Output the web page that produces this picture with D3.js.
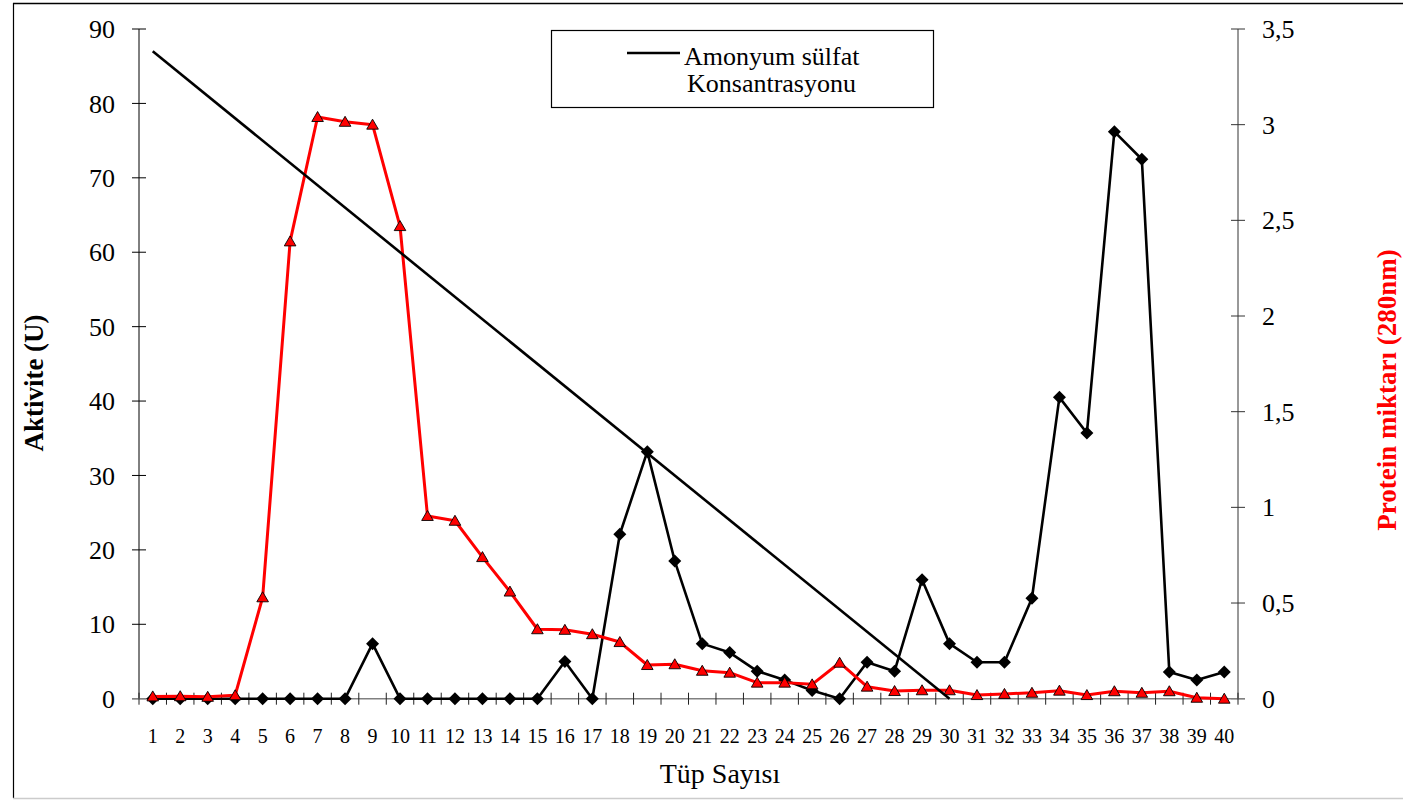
<!DOCTYPE html>
<html>
<head>
<meta charset="utf-8">
<script src="https://cdn.jsdelivr.net/npm/d3@7"></script>
<style>
  html, body { margin: 0; padding: 0; background: #fff; }
  svg text { font-family: "Liberation Serif", "Times New Roman", "DejaVu Serif", serif; }
</style>
</head>
<body>
<svg id="chart" width="1403" height="800"></svg>
<script>
// Tube numbers (x categories)
const tubes = [1,2,3,4,5,6,7,8,9,10,11,12,13,14,15,16,17,18,19,20,
               21,22,23,24,25,26,27,28,29,30,31,32,33,34,35,36,37,38,39,40];

// Enzyme activity (U), left axis
const activity = [0,0,0,0,0,0,0,0,7.4,0,0,0,0,0,0,5,0,22.1,33.2,18.5,
                  7.4,6.2,3.7,2.5,1.1,0,4.9,3.7,16,7.4,4.9,4.9,13.5,40.5,35.7,76.2,72.5,3.6,2.5,3.6];

// Protein amount (A280), right axis
const protein = [0.012,0.013,0.01,0.018,0.53,2.39,3.04,3.015,3.0,2.47,0.955,0.93,0.74,0.56,0.363,0.36,0.337,0.296,0.176,0.18,
                 0.146,0.136,0.084,0.084,0.075,0.188,0.063,0.04,0.044,0.044,0.019,0.025,0.031,0.042,0.019,0.039,0.031,0.039,0.005,0];

// Ammonium sulfate gradient (start and end tubes), drawn on the left scale
const saltTubes = [1, 30];
const saltValues = [87, 0];

// Axis ticks
const leftTicks = [0,10,20,30,40,50,60,70,80,90];
const rightTicks = [0,0.5,1,1.5,2,2.5,3,3.5];

const FONT = "Liberation Serif, Times New Roman, DejaVu Serif, serif";
const svg = d3.select("#chart");

const plot = { left: 139, right: 1238, top: 29, bottom: 698.7 };

const x = d3.scaleLinear().domain([0.5, tubes.length + 0.5]).range([plot.left, plot.right]);
const yL = d3.scaleLinear().domain([0, 90]).range([plot.bottom, plot.top]);
const yR = d3.scaleLinear().domain([0, 3.5]).range([plot.bottom, plot.top]);

// Outer chart frame
svg.append("line").attr("x1", 13.5).attr("y1", 3).attr("x2", 13.5).attr("y2", 798).attr("stroke", "#000").attr("stroke-width", 1.2);
svg.append("line").attr("x1", 13).attr("y1", 3.5).attr("x2", 1403).attr("y2", 3.5).attr("stroke", "#000").attr("stroke-width", 1.5);
svg.append("line").attr("x1", 13).attr("y1", 798.5).attr("x2", 1403).attr("y2", 798.5).attr("stroke", "#ccc").attr("stroke-width", 1.5);

// Left axis
const gL = svg.append("g");
gL.append("line").attr("x1", plot.left).attr("x2", plot.left).attr("y1", yL(90)).attr("y2", yL(0)).attr("stroke", "#000");
gL.selectAll("line.t").data(leftTicks).join("line").attr("class", "t")
  .attr("x1", plot.left - 7).attr("x2", plot.left + 7)
  .attr("y1", d => yL(d)).attr("y2", d => yL(d)).attr("stroke", "#000");
gL.selectAll("text").data(leftTicks).join("text")
  .attr("x", plot.left - 24).attr("y", d => yL(d)).attr("dy", "0.35em")
  .attr("text-anchor", "end").attr("font-family", FONT).attr("font-size", 26).text(d => d);

// Right axis
const fmt = d => String(d).replace(".", ",");
const gR = svg.append("g");
gR.append("line").attr("x1", plot.right).attr("x2", plot.right).attr("y1", yR(3.5)).attr("y2", yR(0)).attr("stroke", "#333");
gR.selectAll("line.t").data(rightTicks).join("line").attr("class", "t")
  .attr("x1", plot.right - 7).attr("x2", plot.right + 7)
  .attr("y1", d => yR(d)).attr("y2", d => yR(d)).attr("stroke", "#333");
gR.selectAll("text").data(rightTicks).join("text")
  .attr("x", plot.right + 24).attr("y", d => yR(d)).attr("dy", "0.35em")
  .attr("text-anchor", "start").attr("font-family", FONT).attr("font-size", 26).text(fmt);

// Bottom (category) axis
const gX = svg.append("g");
gX.append("line").attr("x1", plot.left - 7).attr("x2", plot.right + 7).attr("y1", plot.bottom).attr("y2", plot.bottom)
  .attr("stroke", "#808080").attr("stroke-width", 1.5);
const bounds = d3.range(0, tubes.length + 1).map(i => i + 0.5);
gX.selectAll("line.t").data(bounds).join("line").attr("class", "t")
  .attr("x1", d => x(d)).attr("x2", d => x(d))
  .attr("y1", plot.bottom - 6).attr("y2", plot.bottom + 6).attr("stroke", "#222");
gX.selectAll("text").data(tubes).join("text")
  .attr("x", d => x(d)).attr("y", 742.5)
  .attr("text-anchor", "middle").attr("font-family", FONT).attr("font-size", 20).text(d => d);

// Axis titles
svg.append("text").attr("x", 720).attr("y", 783).attr("text-anchor", "middle")
  .attr("font-family", FONT).attr("font-size", 28).text("Tüp Sayısı");
svg.append("text").attr("transform", "translate(43,383) rotate(-90)").attr("text-anchor", "middle")
  .attr("font-family", FONT).attr("font-size", 27).attr("font-weight", "bold").text("Aktivite (U)");
svg.append("text").attr("transform", "translate(1396,390) rotate(-90)").attr("text-anchor", "middle")
  .attr("font-family", FONT).attr("font-size", 27).attr("font-weight", "bold").attr("fill", "#ff0000").text("Protein miktarı (280nm)");

// Activity series
const actPts = tubes.map((t, i) => [t, activity[i]]);
svg.append("path").datum(actPts)
  .attr("d", d3.line().x(d => x(d[0])).y(d => yL(d[1])))
  .attr("fill", "none").attr("stroke", "#000").attr("stroke-width", 2.6).attr("stroke-linejoin", "round");
svg.append("g").selectAll("path").data(actPts).join("path")
  .attr("transform", d => `translate(${x(d[0])},${yL(d[1])})`)
  .attr("d", "M0,-6.5L6.5,0L0,6.5L-6.5,0Z").attr("fill", "#000");

// Protein series
const protPts = tubes.map((t, i) => [t, protein[i]]);
svg.append("path").datum(protPts)
  .attr("d", d3.line().x(d => x(d[0])).y(d => yR(d[1])))
  .attr("fill", "none").attr("stroke", "#ff0000").attr("stroke-width", 3).attr("stroke-linejoin", "round");
svg.append("g").selectAll("path").data(protPts).join("path")
  .attr("transform", d => `translate(${x(d[0])},${yR(d[1])})`)
  .attr("d", "M0,-5.5L5.8,4.5L-5.8,4.5Z").attr("fill", "#ff0000").attr("stroke", "#000").attr("stroke-width", 0.9);

// Ammonium sulfate gradient line
const saltPts = saltTubes.map((t, i) => [t, saltValues[i]]);
svg.append("path").datum(saltPts)
  .attr("d", d3.line().x(d => x(d[0])).y(d => yL(d[1])))
  .attr("fill", "none").attr("stroke", "#000").attr("stroke-width", 2.6);

// Legend
const lg = svg.append("g");
lg.append("rect").attr("x", 551.5).attr("y", 30.5).attr("width", 382).attr("height", 77)
  .attr("fill", "#fff").attr("stroke", "#000").attr("stroke-width", 1.2);
lg.append("line").attr("x1", 627).attr("x2", 680).attr("y1", 53).attr("y2", 53).attr("stroke", "#000").attr("stroke-width", 2.6);
lg.append("text").attr("x", 684).attr("y", 65).attr("font-family", FONT).attr("font-size", 26).text("Amonyum sülfat");
lg.append("text").attr("x", 687).attr("y", 92).attr("font-family", FONT).attr("font-size", 26).text("Konsantrasyonu");
</script>
</body>
</html>
